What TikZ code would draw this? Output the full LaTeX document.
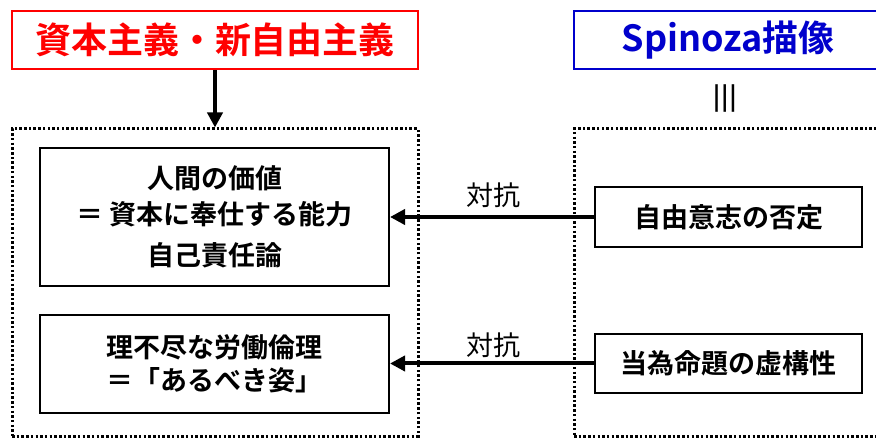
\documentclass[tikz,border=0pt]{standalone}
\usepackage{fontspec}
\setmainfont{Noto Sans CJK JP}[BoldFont={Noto Sans CJK JP Bold}]
\usetikzlibrary{arrows.meta}
\definecolor{capred}{RGB}{255,0,0}
\definecolor{capblue}{RGB}{0,0,204}
\tikzset{
  capbox/.style={draw, line width=2.5pt, fill=white, inner sep=0pt, font=\fontsize{36}{40}\selectfont\bfseries},
  dotbox/.style={draw, line width=3pt, dash pattern=on 2.5pt off 2.2pt, inner sep=0pt},
  itembox/.style={draw, line width=2pt, fill=white, inner sep=0pt, align=center},
  oppose/.style={line width=4pt, -{Triangle[length=15pt,width=15pt]}},
  lbl/.style={font=\fontsize{27}{30}\selectfont, inner sep=0pt}
}
\begin{document}
\begin{tikzpicture}[x=1pt,y=-1pt]
\useasboundingbox (0,0) rectangle (876,438);
\clip (0,0) rectangle (876,438);
% captions
\node[capbox, draw=capred, text=capred, minimum width=406, minimum height=58] (cap) at (215,40) {資本主義・新自由主義};
\node[capbox, draw=capblue, text=capblue, minimum width=308, minimum height=58] (spi) at (728,40) {Spinoza描像};
\node[font=\fontsize{38}{38}\selectfont, rotate=90, inner sep=0pt] (eq) at (728,99) {≡};
% dotted frames
\node[dotbox, minimum width=406, minimum height=307] (L) at (215,282.5) {};
\node[dotbox, minimum width=308, minimum height=307] (R) at (728,282.5) {};
% items
\node[itembox, minimum width=349, minimum height=138, font=\fontsize{27}{36}\selectfont\bfseries] (A) at (214.5,217) {人間の価値\\＝ 資本に奉仕する能力\\[5pt]自己責任論};
\node[itembox, minimum width=349, minimum height=98, font=\fontsize{27}{33}\selectfont\bfseries] (B) at (214.5,364) {理不尽な労働倫理\\＝「あるべき姿」};
\node[itembox, minimum width=267, minimum height=60, font=\fontsize{27}{33}\selectfont\bfseries] (C) at (728.5,217) {自由意志の否定};
\node[itembox, minimum width=267, minimum height=59, font=\fontsize{27}{33}\selectfont\bfseries] (D) at (728.5,363.5) {当為命題の虚構性};
% connectors
\draw[line width=4pt, -{Triangle[length=15pt,width=15pt]}] (cap.south) -- (L.north);
\draw[oppose] (C.west) -- (C.west -| A.east);
\draw[oppose] (D.west) -- (D.west -| B.east);
\node[lbl] (l1) at (493,195) {対抗};
\node[lbl] (l2) at (493,345) {対抗};
\end{tikzpicture}
\end{document}
